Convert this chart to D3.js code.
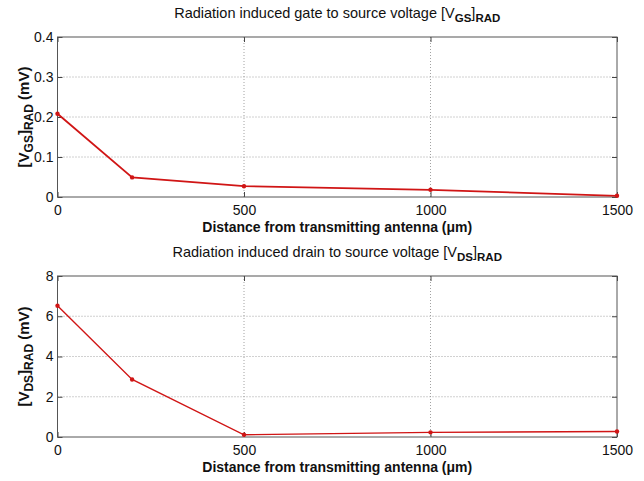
<!DOCTYPE html>
<html>
<head>
<meta charset="utf-8">
<script src="https://d3js.org/d3.v7.min.js"></script>
<style>
  body { margin: 0; background: #fff; }
  svg { font-family: "Liberation Sans", Arial, sans-serif; }
</style>
</head>
<body>
<div id="chart"></div>
<script>
// distances from antenna (um)
const distances = [0, 200, 500, 1000, 1500];
// induced gate-source voltage (mV)
const vgsValues = [0.208, 0.049, 0.027, 0.018, 0.003];
// induced drain-source voltage (mV)
const vdsValues = [6.52, 2.86, 0.11, 0.23, 0.27];

const xTicks = [0, 500, 1000, 1500];
const vgsTicks = [0, 0.1, 0.2, 0.3, 0.4];
const vdsTicks = [0, 2, 4, 6, 8];

const width = 644, height = 481;
const left = 57.5, right = 617;

const svg = d3.select("#chart").append("svg")
    .attr("width", width)
    .attr("height", height);

var x = d3.scaleLinear().domain([0, 1500]).range([left, right]);

function makePanel(opts) {
    const y = d3.scaleLinear().domain(opts.domain).range([opts.bottom, opts.top]);
    const g = svg.append("g");

    // grid (dotted)
    g.selectAll(".vgrid")
        .data(xTicks.slice(1, -1))
        .join("line")
        .attr("x1", d => x(d)).attr("x2", d => x(d))
        .attr("y1", opts.top).attr("y2", opts.bottom)
        .attr("stroke", "#8a8a8a")
        .attr("stroke-width", 0.8)
        .attr("stroke-dasharray", "1,2");
    g.selectAll(".hgrid")
        .data(opts.ticks.slice(1, -1))
        .join("line")
        .attr("x1", left).attr("x2", right)
        .attr("y1", d => y(d)).attr("y2", d => y(d))
        .attr("stroke", "#8a8a8a")
        .attr("stroke-width", 0.8)
        .attr("stroke-dasharray", "1,2");

    // axes with inward ticks, box style
    const axisStyle = sel => {
        sel.attr("font-size", null).attr("font-family", null);
        sel.select(".domain").remove();
        sel.selectAll("line").attr("stroke", "#444");
        sel.selectAll("text").attr("fill", "#111").attr("font-size", "14px");
    };
    g.append("g")
        .attr("transform", `translate(0,${opts.bottom})`)
        .call(d3.axisBottom(x).tickValues(xTicks).tickSizeInner(-5).tickSizeOuter(0).tickPadding(8).tickFormat(d3.format("d")))
        .call(axisStyle);
    g.append("g")
        .attr("transform", `translate(0,${opts.top})`)
        .call(d3.axisTop(x).tickValues(xTicks).tickSizeInner(-5).tickSizeOuter(0).tickFormat(""))
        .call(axisStyle);
    g.append("g")
        .attr("transform", `translate(${left},0)`)
        .call(d3.axisLeft(y).tickValues(opts.ticks).tickSizeInner(-5).tickSizeOuter(0).tickPadding(4).tickFormat(d => d3.format("")(d)))
        .call(axisStyle);
    g.append("g")
        .attr("transform", `translate(${right},0)`)
        .call(d3.axisRight(y).tickValues(opts.ticks).tickSizeInner(-5).tickSizeOuter(0).tickFormat(""))
        .call(axisStyle);

    g.append("rect")
        .attr("x", left).attr("y", opts.top)
        .attr("width", right - left).attr("height", opts.bottom - opts.top)
        .attr("fill", "none")
        .attr("stroke", "#555")
        .attr("stroke-width", 1);

    // data line
    const pts = distances.map((d, i) => [d, opts.values[i]]);
    g.append("path")
        .datum(pts)
        .attr("fill", "none")
        .attr("stroke", "#d01515")
        .attr("stroke-width", opts.lw)
        .attr("d", d3.line().x(d => x(d[0])).y(d => y(d[1])));
    g.selectAll(".pt")
        .data(pts)
        .join("circle")
        .attr("cx", d => x(d[0]))
        .attr("cy", d => y(d[1]))
        .attr("r", 2.2)
        .attr("fill", "#d01515");

    // title
    const t = g.append("text")
        .attr("x", (left + right) / 2)
        .attr("y", opts.top - 19)
        .attr("text-anchor", "middle")
        .attr("font-size", "14.5px")
        .attr("fill", "#111");
    t.append("tspan").text(opts.title + " [V");
    t.append("tspan").attr("dy", 4).attr("font-size", "11.5px").attr("font-weight", "bold").text(opts.sub);
    t.append("tspan").attr("dy", -4).text("]");
    t.append("tspan").attr("dy", 4).attr("font-size", "11.5px").attr("font-weight", "bold").text("RAD");

    // x label
    g.append("text")
        .attr("x", (left + right) / 2)
        .attr("y", opts.bottom + 35)
        .attr("text-anchor", "middle")
        .attr("font-size", "14px")
        .attr("font-weight", "bold")
        .attr("fill", "#111")
        .text("Distance from transmitting antenna (\u03bcm)");

    // y label
    const yl = g.append("text")
        .attr("transform", `translate(29,${(opts.top + opts.bottom) / 2}) rotate(-90)`)
        .attr("text-anchor", "middle")
        .attr("font-size", "15px")
        .attr("font-weight", "bold")
        .attr("fill", "#111");
    yl.append("tspan").text("[V");
    yl.append("tspan").attr("dy", 4).attr("font-size", "12px").text(opts.sub);
    yl.append("tspan").attr("dy", -4).text("]");
    yl.append("tspan").attr("dy", 4).attr("font-size", "12px").text("RAD");
    yl.append("tspan").attr("dy", -4).text(" (mV)");
}

makePanel({
    top: 37, bottom: 197, domain: [0, 0.4], ticks: vgsTicks, values: vgsValues,
    title: "Radiation induced gate to source voltage", sub: "GS", lw: 1.8
});
makePanel({
    top: 276, bottom: 437, domain: [0, 8], ticks: vdsTicks, values: vdsValues,
    title: "Radiation induced drain to source voltage", sub: "DS", lw: 1.4
});
</script>
</body>
</html>
